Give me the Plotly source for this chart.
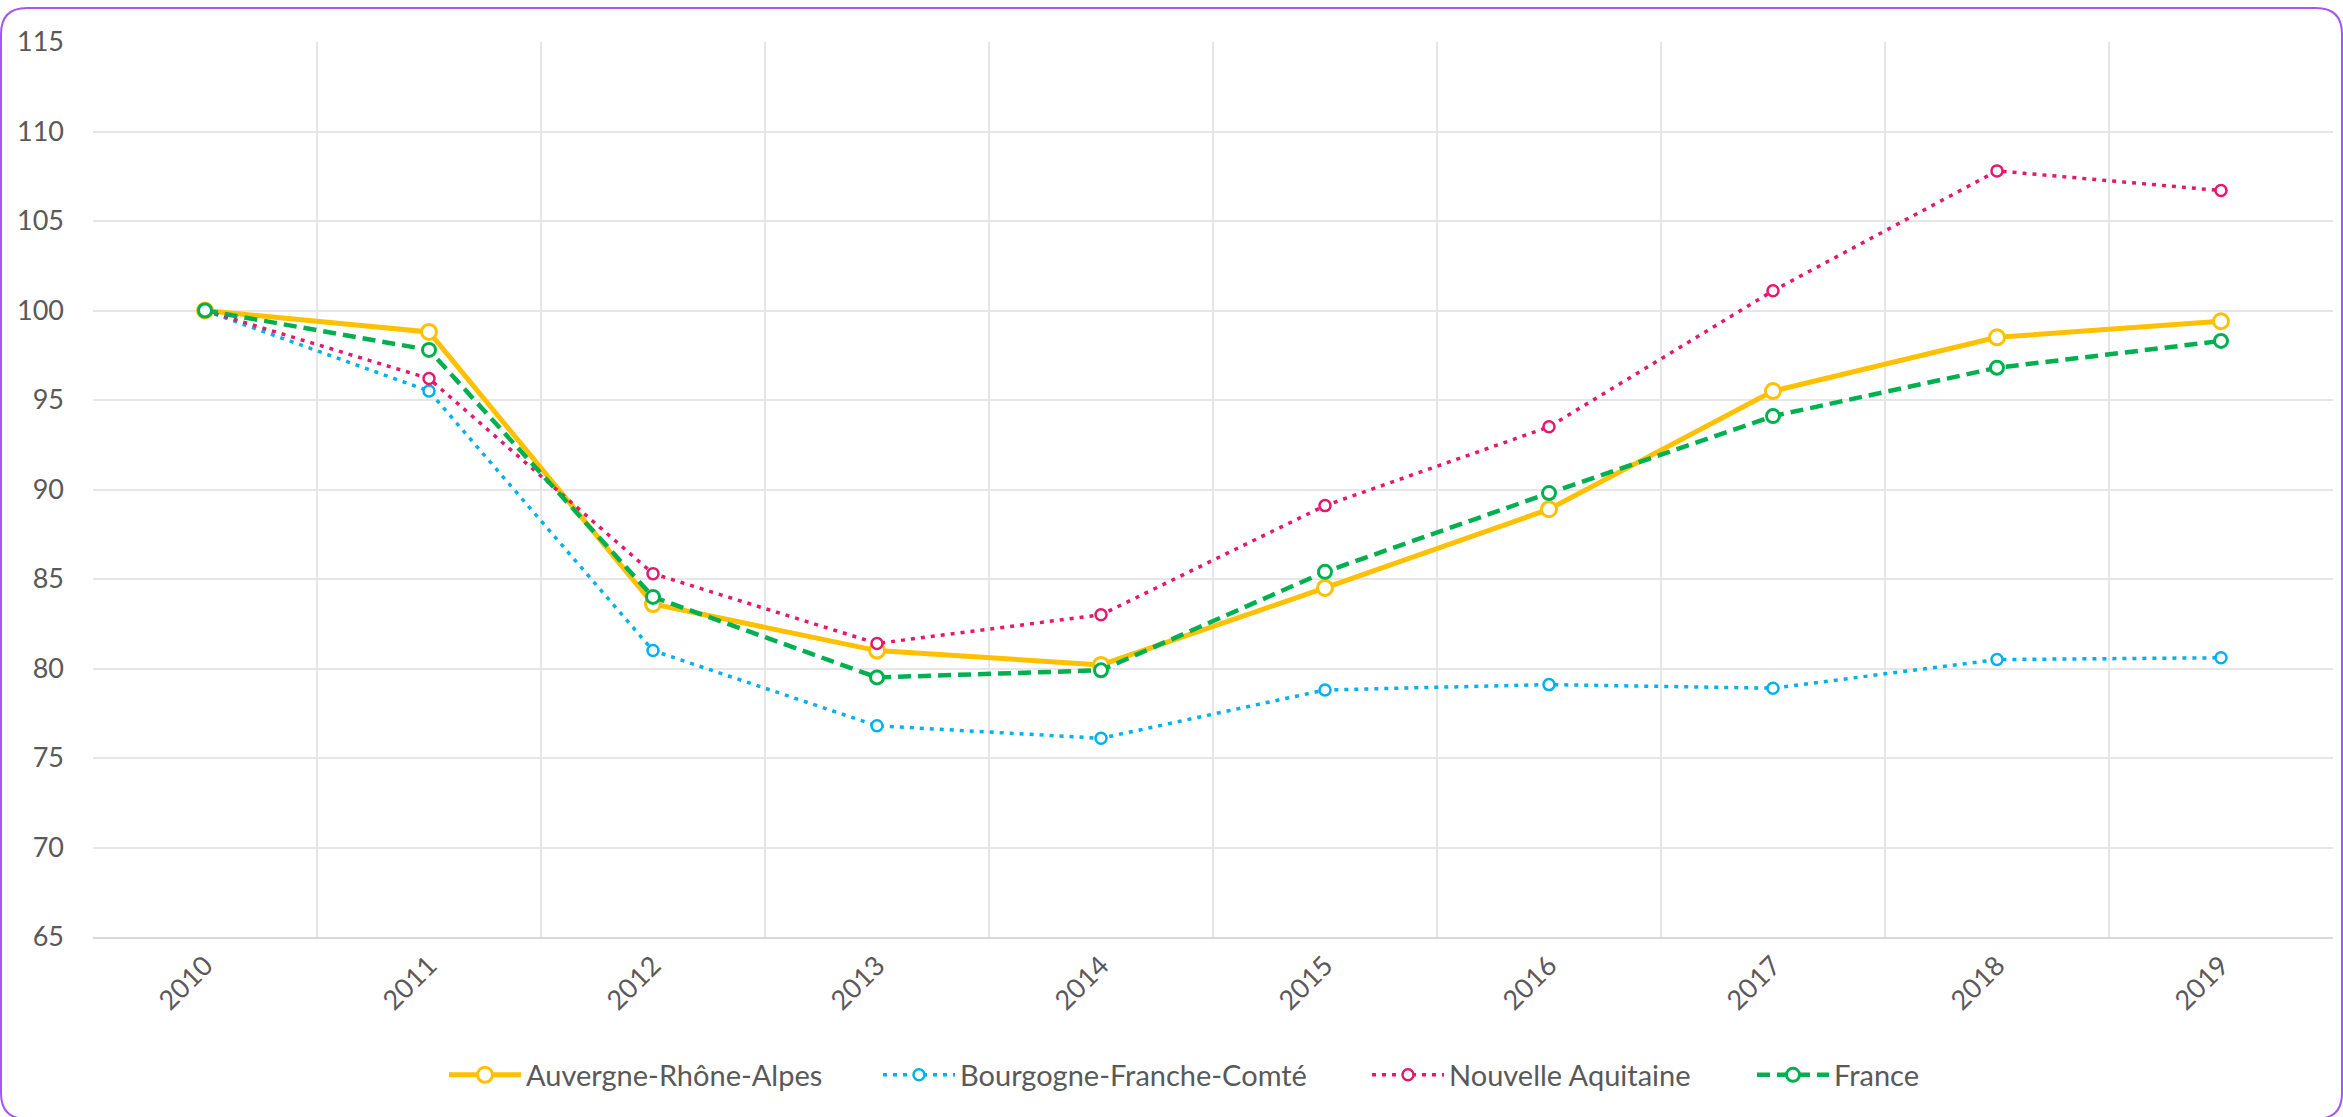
import plotly.graph_objects as go

years = ["2010", "2011", "2012", "2013", "2014", "2015", "2016", "2017", "2018", "2019"]
aura = [100, 98.8, 83.6, 81.0, 80.2, 84.5, 88.9, 95.5, 98.5, 99.4]
bfc = [100, 95.5, 81.0, 76.8, 76.1, 78.8, 79.1, 78.9, 80.5, 80.6]
nouvelle_aquitaine = [100, 96.2, 85.3, 81.4, 83.0, 89.1, 93.5, 101.1, 107.8, 106.7]
france = [100, 97.8, 84.0, 79.5, 79.9, 85.4, 89.8, 94.1, 96.8, 98.3]
y_ticks = [65, 70, 75, 80, 85, 90, 95, 100, 105, 110, 115]

W, H = 2343, 1117
ML, MR, MT, MB = 93, 10, 42, 180
PW, PH = W - ML - MR, H - MT - MB

FONT = "Lato"
TXT = "#595959"


def px(xp):
    return (xp - ML) / PW


def py(yp):
    return (H - MB - yp) / PH


fig = go.Figure()

legend_left = [449, 883, 1372, 1757]  # pixel positions of legend entries


def add(name, vals, color, width, dash, msize, mline, idx):
    lg = "legend" if idx == 0 else f"legend{idx + 1}"
    fig.add_trace(go.Scatter(
        x=years, y=vals, name=name, mode="lines+markers", legend=lg,
        line=dict(color=color, width=width, dash=dash),
        marker=dict(symbol="circle", size=msize, color="white",
                    line=dict(color=color, width=mline)),
    ))


add("Auvergne-Rhône-Alpes", aura, "#FFC000", 5, "solid", 15, 3, 0)
add("Bourgogne-Franche-Comté", bfc, "#00B0F0", 3.5, "4px,6px", 11, 2.5, 1)
add("Nouvelle Aquitaine", nouvelle_aquitaine, "#E6186E", 3.5, "4px,6px", 11, 2.5, 2)
add("France", france, "#00B050", 4.5, "13px,7px", 13, 3, 3)

legends = {}
for i, lx in enumerate(legend_left):
    key = "legend" if i == 0 else f"legend{i + 1}"
    legends[key] = dict(orientation="h", x=px(lx - 5), xanchor="left",
                        y=py(1075), yanchor="middle", itemwidth=72,
                        font=dict(family=FONT, size=29, color=TXT),
                        bgcolor="rgba(0,0,0,0)")

# rounded border around the chart
x0, x1, y0, y1, r = 1, W - 1, 8, H + 2, 26
path = (f"M {px(x0)} {py(y0 + r)} Q {px(x0)} {py(y0)} {px(x0 + r)} {py(y0)} "
        f"L {px(x1 - r)} {py(y0)} Q {px(x1)} {py(y0)} {px(x1)} {py(y0 + r)} "
        f"L {px(x1)} {py(y1 - r)} Q {px(x1)} {py(y1)} {px(x1 - r)} {py(y1)} "
        f"L {px(x0 + r)} {py(y1)} Q {px(x0)} {py(y1)} {px(x0)} {py(y1 - r)} Z")

fig.update_layout(
    width=W, height=H,
    margin=dict(l=ML, r=MR, t=MT, b=MB),
    paper_bgcolor="white", plot_bgcolor="white",
    font=dict(family=FONT, size=27, color=TXT),
    showlegend=True,
    xaxis=dict(type="category", range=[-0.5, 9.5], tickson="boundaries",
               showgrid=True, gridcolor="#E6E6E6", gridwidth=1.5,
               ticks="", tickangle=-45,
               showline=True, linecolor="#D9D9D9", linewidth=2,
               tickfont=dict(family=FONT, size=27, color=TXT), fixedrange=True),
    yaxis=dict(range=[65, 115], tickvals=y_ticks, showgrid=True, gridcolor="#E6E6E6",
               gridwidth=1.5, zeroline=False, ticks="", ticklabelstandoff=28,
               showline=False,
               tickfont=dict(family=FONT, size=27, color=TXT), fixedrange=True),
    shapes=[dict(type="path", xref="paper", yref="paper", path=path,
                 line=dict(color="#A855F7", width=2), fillcolor="rgba(0,0,0,0)",
                 layer="above")],
    **legends,
)

fig.write_html("out.html", config={"displayModeBar": False},
               post_script="document.body.style.margin='0';document.body.style.overflow='hidden';")
